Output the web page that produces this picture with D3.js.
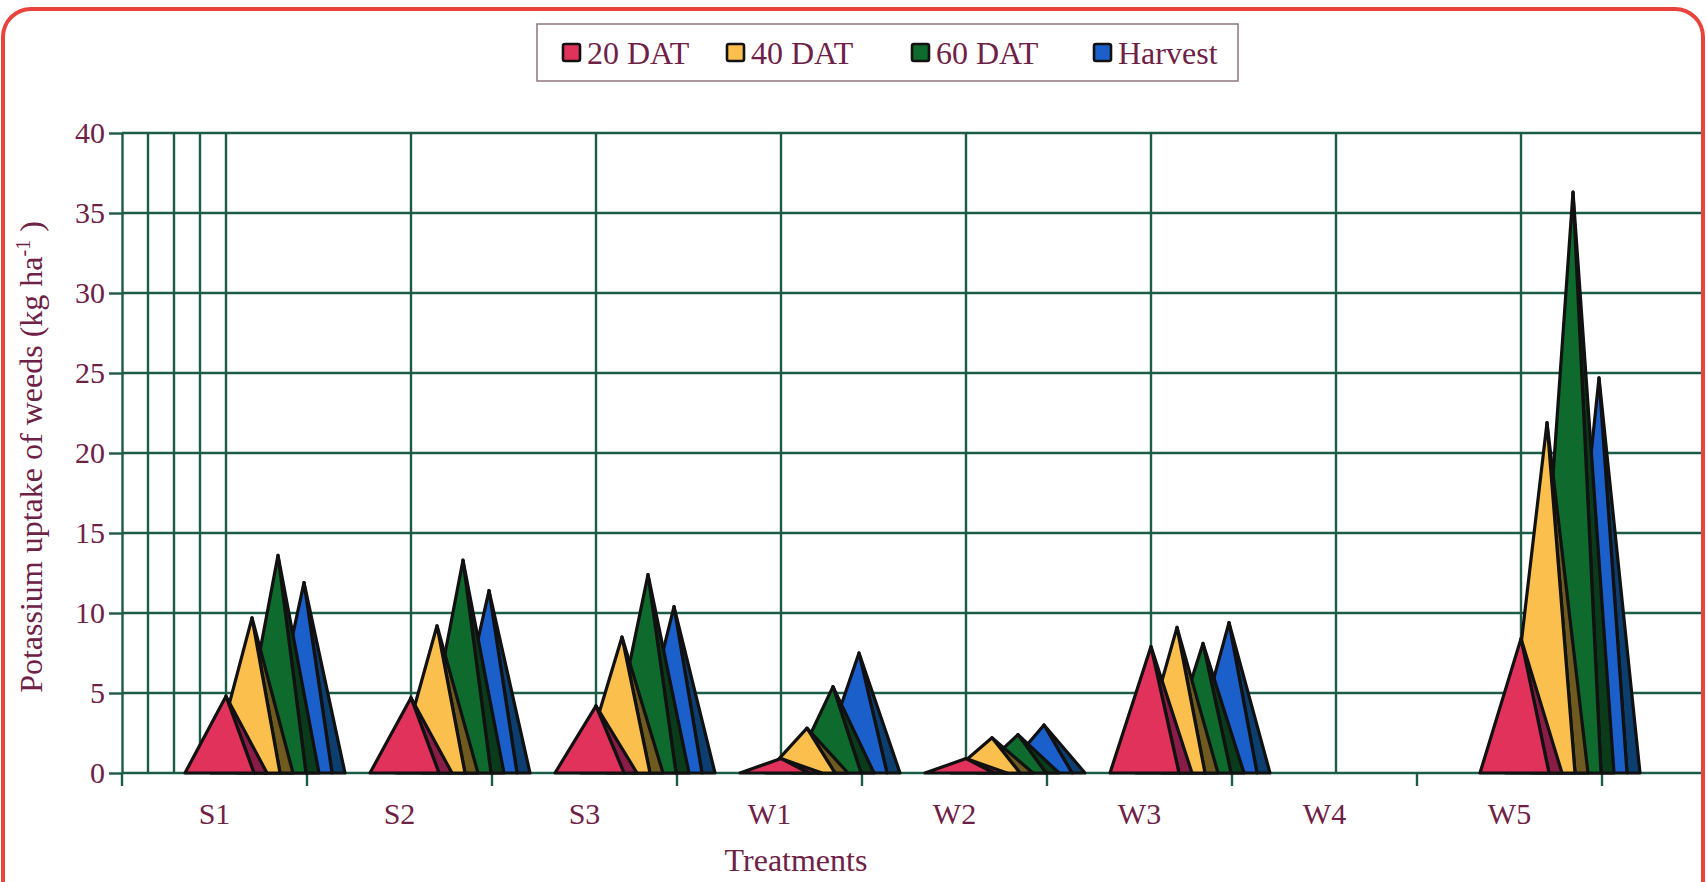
<!DOCTYPE html>
<html>
<head>
<meta charset="utf-8">
<script src="https://cdn.jsdelivr.net/npm/d3@7"></script>
<style>
  html, body { margin: 0; padding: 0; background: #ffffff; overflow: hidden; }
  svg { display: block; }
</style>
</head>
<body>
<svg id="chart" width="1707" height="882"></svg>
<script>
// Potassium uptake of weeds by treatment, four sampling stages
const categories = ["S1", "S2", "S3", "W1", "W2", "W3", "W4", "W5"];
const seriesNames = ["20 DAT", "40 DAT", "60 DAT", "Harvest"];
const dat20   = [4.8, 4.7, 4.2, 0.9, 0.9, 7.9, 0, 8.4];
const dat40   = [9.7, 9.2, 8.5, 2.8, 2.2, 9.1, 0, 21.9];
const dat60   = [13.6, 13.3, 12.4, 5.4, 2.4, 8.1, 0, 36.3];
const harvest = [11.9, 11.4, 10.4, 7.5, 3.0, 9.4, 0, 24.7];
const yTicks  = [0, 5, 10, 15, 20, 25, 30, 35, 40];

const seriesValues = [dat20, dat40, dat60, harvest];
const frontColors = ["#e1325c", "#fbbf4e", "#0e6a2d", "#1b5fcb"];
const sideColors  = ["#8a1d47", "#6f5b1f", "#0a3b1b", "#0d3e70"];

const font = "'Liberation Serif', 'Times New Roman', serif";
const textColor = "#6e2146";
const gridColor = "#1c5c46";
const outline = "#111111";

const svg = d3.select("#chart");

// plot geometry
const floorLeft = 122, floorRight = 1602;
const plotTop = 133, plotBottom = 773;
const rightClip = 1701;
const depth = 104;            // shift of the back wall
const step = depth / 4;       // spacing of the series inside a cluster
const halfW = 41;             // half base width of a pyramid
const frontEdge = 28;         // where the front face meets the side face

const x = d3.scaleBand().domain(categories).range([floorLeft, floorRight]).padding(0);
const y = d3.scaleLinear().domain([0, 40]).range([plotBottom, plotTop]);

svg.append("defs").append("clipPath").attr("id", "frame")
  .append("rect").attr("x", 0).attr("y", 0).attr("width", rightClip).attr("height", 882);

// white card with red rounded border
svg.append("rect")
  .attr("x", 3).attr("y", 9).attr("width", 1700).attr("height", 960)
  .attr("rx", 28).attr("ry", 28)
  .attr("fill", "#ffffff").attr("stroke", "#e8443d").attr("stroke-width", 4);

const grid = svg.append("g").attr("clip-path", "url(#frame)")
  .attr("stroke", gridColor).attr("stroke-width", 2.4).attr("fill", "none");

// horizontal gridlines
grid.selectAll("line.h").data(yTicks).join("line").attr("class", "h")
  .attr("x1", floorLeft).attr("x2", rightClip)
  .attr("y1", d => y(d)).attr("y2", d => y(d));

// side-wall verticals between the axis and the back wall
grid.selectAll("line.wall").data(d3.range(1, 5)).join("line").attr("class", "wall")
  .attr("x1", k => floorLeft + k * step).attr("x2", k => floorLeft + k * step)
  .attr("y1", y(40)).attr("y2", y(0));

// back-wall verticals at category boundaries
const boundaries = categories.map(c => x(c) + x.bandwidth());
grid.selectAll("line.back").data(boundaries).join("line").attr("class", "back")
  .attr("x1", b => b + depth).attr("x2", b => b + depth)
  .attr("y1", y(40)).attr("y2", y(0));

// y axis
const yAxis = svg.append("g")
  .attr("transform", `translate(${floorLeft},0)`)
  .call(d3.axisLeft(y).tickValues(yTicks).tickSize(13).tickSizeOuter(0).tickPadding(4));
yAxis.select(".domain").attr("stroke", gridColor).attr("stroke-width", 2.4);
yAxis.selectAll(".tick line").attr("stroke", gridColor).attr("stroke-width", 2.4);
yAxis.selectAll(".tick text")
  .attr("font-family", font).attr("font-size", 30).attr("fill", textColor);

// x axis: ticks at category boundaries, labels at band centres
const tickPositions = [floorLeft].concat(boundaries);
svg.append("g").selectAll("line").data(tickPositions).join("line")
  .attr("x1", d => d).attr("x2", d => d)
  .attr("y1", y(0)).attr("y2", y(0) + 13)
  .attr("stroke", gridColor).attr("stroke-width", 2.4);

const xAxis = svg.append("g")
  .attr("transform", `translate(0,${y(0)})`)
  .call(d3.axisBottom(x).tickSize(0).tickPadding(30));
xAxis.select(".domain").remove();
xAxis.selectAll(".tick text")
  .attr("font-family", font).attr("font-size", 30).attr("fill", textColor);

// pyramids: back series first so earlier series sit in front
const pyramids = svg.append("g")
  .attr("stroke", outline).attr("stroke-width", 3.2).attr("stroke-linejoin", "round");

d3.range(seriesNames.length).reverse().forEach(s => {
  categories.forEach((cat, i) => {
    const v = seriesValues[s][i];
    if (!(v > 0)) return;
    const cx = x(cat) + depth + s * step;
    const base = y(0), top = y(v);
    pyramids.append("path")
      .attr("d", d3.line()([[cx + frontEdge, base], [cx, top], [cx + halfW, base]]) + "Z")
      .attr("fill", sideColors[s]);
    pyramids.append("path")
      .attr("d", d3.line()([[cx - halfW, base], [cx, top], [cx + frontEdge, base]]) + "Z")
      .attr("fill", frontColors[s]);
  });
});

// axis titles
svg.append("text")
  .attr("x", 796).attr("y", 871)
  .attr("text-anchor", "middle")
  .attr("font-family", font).attr("font-size", 32).attr("fill", textColor)
  .text("Treatments");

const yTitle = svg.append("text")
  .attr("transform", "translate(42,457) rotate(-90)")
  .attr("text-anchor", "middle")
  .attr("font-family", font).attr("font-size", 32).attr("fill", textColor);
yTitle.append("tspan").text("Potassium uptake of weeds (kg ha");
yTitle.append("tspan").attr("font-size", 20).attr("dy", -12).text("-1");
yTitle.append("tspan").attr("dy", 12).text(" )");

// legend
const legend = svg.append("g");
legend.append("rect")
  .attr("x", 537).attr("y", 24).attr("width", 701).attr("height", 57)
  .attr("fill", "#ffffff").attr("stroke", "#8e7480").attr("stroke-width", 1.5);
const legendX = [563, 727, 912, 1094];
const items = legend.selectAll("g.item").data(seriesNames).join("g").attr("class", "item")
  .attr("transform", (d, i) => `translate(${legendX[i]},0)`);
items.append("rect")
  .attr("x", 0).attr("y", 44).attr("width", 17).attr("height", 17)
  .attr("rx", 2)
  .attr("fill", (d, i) => frontColors[i]).attr("stroke", outline).attr("stroke-width", 2.6);
items.append("text")
  .attr("x", 24).attr("y", 64)
  .attr("font-family", font).attr("font-size", 32).attr("fill", textColor)
  .text(d => d);
</script>
</body>
</html>
